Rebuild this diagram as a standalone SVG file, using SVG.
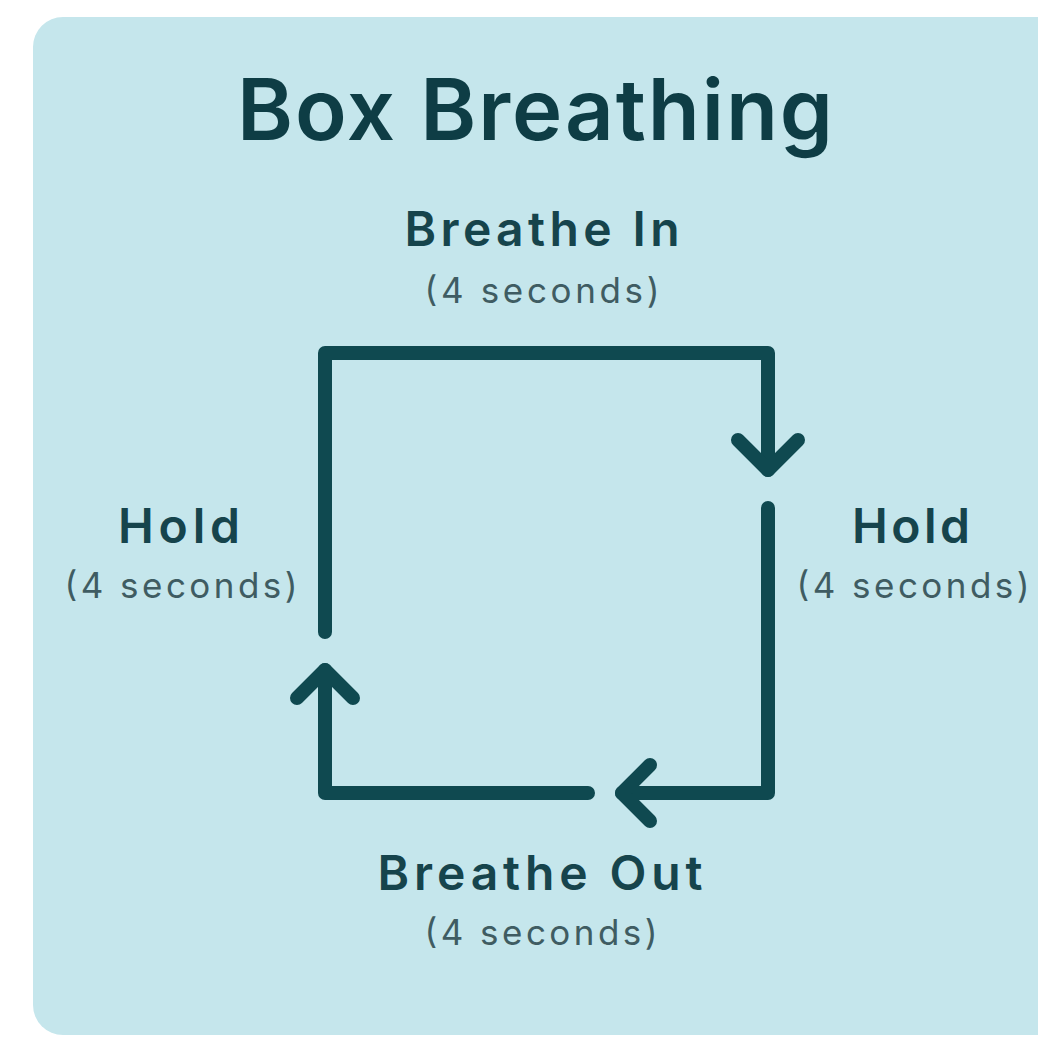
<svg xmlns="http://www.w3.org/2000/svg" width="1038" height="1038" viewBox="0 0 1038 1038">
  <style>
    .title { font-family: Inter, "Open Sans", "Liberation Sans", sans-serif; font-weight: 600; fill: #0e3d45; text-anchor: middle; }
    .lbl { font-family: Inter, "Open Sans", "Liberation Sans", sans-serif; font-weight: 600; font-size: 48px; fill: #16444c; text-anchor: middle; }
    .sub { font-family: Inter, "Open Sans", "Liberation Sans", sans-serif; font-weight: 400; font-size: 35px; fill: #3f5c62; text-anchor: middle; }
    .line { fill: none; stroke: #0f4950; stroke-width: 14; stroke-linecap: round; stroke-linejoin: round; }
  </style>
  <rect x="0" y="0" width="1038" height="1038" fill="#ffffff"/>
  <rect id="panel" x="33" y="17" width="1060" height="1018" rx="30" fill="#c5e6ec"/>
  <text class="title" x="535" y="140" font-size="85" textLength="596" lengthAdjust="spacing">Box Breathing</text>

  <g id="connectors">
    <path class="line" d="M325 632 L325 353 L768 353 L768 470"/>
    <path class="line" d="M738 440 L768 470 L798 440"/>
    <path class="line" d="M768 508 L768 793 L622 793"/>
    <path class="line" d="M650 765 L622 793 L650 821"/>
    <path class="line" d="M588 793 L325 793 L325 670"/>
    <path class="line" d="M297 698 L325 670 L353 698"/>
  </g>

  <g id="breathe-in">
    <text class="lbl" x="542" y="246" textLength="275" lengthAdjust="spacing">Breathe In</text>
    <text class="sub" x="542" y="303" textLength="235" lengthAdjust="spacing">(4 seconds)</text>
  </g>
  <g id="hold-right">
    <text class="lbl" x="911" y="543" textLength="118" lengthAdjust="spacing">Hold</text>
    <text class="sub" x="913" y="598" textLength="233" lengthAdjust="spacing">(4 seconds)</text>
  </g>
  <g id="breathe-out">
    <text class="lbl" x="540" y="890" textLength="325" lengthAdjust="spacing">Breathe Out</text>
    <text class="sub" x="541" y="945" textLength="233" lengthAdjust="spacing">(4 seconds)</text>
  </g>
  <g id="hold-left">
    <text class="lbl" x="179" y="543" textLength="122" lengthAdjust="spacing">Hold</text>
    <text class="sub" x="181" y="598" textLength="233" lengthAdjust="spacing">(4 seconds)</text>
  </g>
</svg>
